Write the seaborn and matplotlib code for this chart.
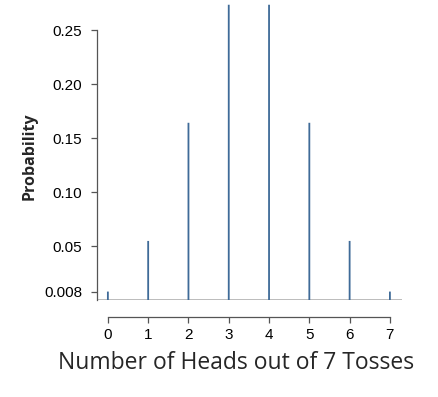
##### 7回コイン投げの二項分布
import numpy as np
import pandas as pd
import matplotlib
matplotlib.use("Agg")
import matplotlib.pyplot as plt
import seaborn as sns

##### データ
heads = [0, 1, 2, 3, 4, 5, 6, 7]
probs = [0.0078, 0.0547, 0.1641, 0.2734, 0.2734, 0.1641, 0.0547, 0.0078]
ytick_vals = [0.0078, 0.05, 0.10, 0.15, 0.20, 0.25]
ytick_labels = ["0.008", "0.05", "0.10", "0.15", "0.20", "0.25"]

df = pd.DataFrame({"Heads": heads, "Probability": probs})

sns.set_style("ticks")
plt.rcParams['font.family'] = ['Liberation Sans', 'DejaVu Sans']
plt.rcParams['text.color'] = 'black'
plt.rcParams['xtick.color'] = 'black'
plt.rcParams['ytick.color'] = 'black'

fig = plt.figure(figsize=(4.39, 3.97), dpi=100)
ax = fig.add_axes([97/439, 1 - 300/397, (402 - 97)/439, 300/397])

# 細い棒
sns.barplot(data=df, x="Heads", y="Probability", native_scale=True,
            width=0.045, color="#3f6b98", saturation=1, linewidth=0, ax=ax)
for p in ax.patches:
    p.set_snap(False)

ax.set_xlim(-0.27, 7.3)
ax.set_ylim(0, 0.2778)

# y=0 の基準線
ax.axhline(0, color="#b0b0b0", lw=1.2, zorder=0)

##### 軸の見た目
ax.spines['top'].set_visible(False)
ax.spines['right'].set_visible(False)
ax.spines['left'].set_bounds(0, 0.25)
ax.spines['left'].set_color("#555555")
ax.spines['left'].set_linewidth(0.9)
ax.spines['bottom'].set_position(('outward', 12))
ax.spines['bottom'].set_bounds(0, 7)
ax.spines['bottom'].set_color("#555555")
ax.spines['bottom'].set_linewidth(0.9)

ax.set_xticks(heads)
ax.set_xticklabels([str(h) for h in heads])
ax.set_yticks(ytick_vals)
ax.set_yticklabels(ytick_labels)
ax.tick_params(axis='both', labelsize=11, color="#555555", width=0.9, length=4.5)
ax.tick_params(axis='y', pad=6)

ax.set_ylabel("Probability", fontsize=11.5, fontweight='bold',
              family=['Open Sans', 'DejaVu Sans'])
ax.yaxis.set_label_coords(-(97 - 38) / 305, (300 - 156.5) / 300)
ax.set_xlabel("Number of Heads out of 7 Tosses", fontsize=16.5,
              family=['Open Sans', 'DejaVu Sans'])
ax.xaxis.set_label_coords((236 - 97) / 305, -(351 - 300) / 300)

plt.savefig("out.png", dpi=100)
